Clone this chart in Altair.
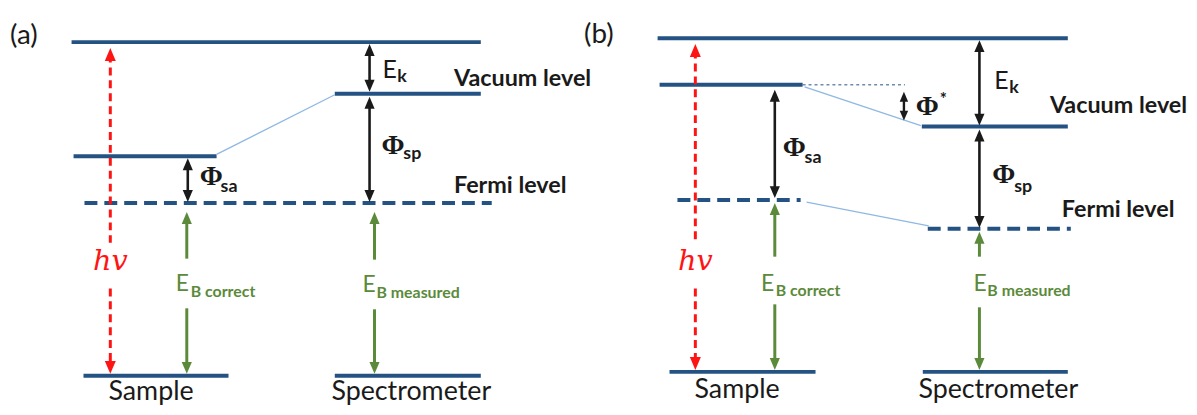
import altair as alt
import pandas as pd

# ---------------- canvas (diagram coordinates, y grows downwards) ----------------
W, H = 1189, 399
X_DOMAIN = [8, 8 + W]
Y_DOMAIN = [8, 8 + H]

BLUE = "#245282"
LIGHT = "#8fb8e3"
RED = "#ff1414"
GREEN = "#5b8a3a"
INK = "#1a1a1a"

# ---------------- energy levels ----------------
# solid levels: (a) photon/top, spectrometer vacuum, sample vacuum, core (sample, spectrometer); then (b)
solid_x0 = [72, 337, 74, 84, 337, 662, 664, 928, 674, 929]
solid_x1 = [484, 484, 218, 230, 484, 1075, 808, 1075, 821, 1075]
solid_y = [41, 93, 156, 377, 377, 37, 84, 126, 373, 373]

# Fermi levels (dashed)
fermi_x0 = [85, 682, 934]
fermi_x1 = [495, 806, 1078]
fermi_y = [203, 200, 229]

# thin light-blue connectors between levels
conn_x0 = [218, 810, 812]
conn_y0 = [154, 86, 202]
conn_x1 = [337, 927, 935]
conn_y1 = [94, 125, 226]

# thin dashed reference line (b)
ref_x0 = [808]
ref_x1 = [911]
ref_y = [84]

# ---------------- arrows ----------------
arrow_x = [111, 189, 372, 372, 188, 377, 700, 780, 910, 986, 986, 780, 986]
arrow_top = [47, 158, 43, 96, 212, 212, 43, 89, 91, 39, 129, 203, 232]
arrow_bottom = [375, 202, 91, 202, 375, 375, 371, 198, 120, 125, 228, 371, 371]
arrow_kind = ["red", "black", "black", "black", "green", "green",
              "red", "black", "small", "black", "black", "green", "green"]
gap_top = [243, None, None, None, 259, 260, 243, None, None, None, None, 257, 257]
gap_bottom = [289, None, None, None, 309, 310, 289, None, None, None, None, 305, 308]

# ---------------- labels ----------------
label_text = ["(a)", "(b)",
              "Vacuum level", "Fermi level", "Vacuum level", "Fermi level",
              "E", "k", "E", "k",
              "Φ", "sp", "Φ", "sa", "Φ", "sa", "Φ", "sp", "Φ", "*",
              "hv", "hv",
              "E", "B correct", "E", "B measured", "E", "B correct", "E", "B measured",
              "Sample", "Spectrometer", "Sample", "Spectrometer"]
label_x = [10, 588,
           457, 457, 1057, 1069,
           385, 400, 1001, 1016,
           384, 406, 201, 222, 788, 810, 999, 1021, 922, 946,
           111, 700,
           177, 192, 365, 379, 766, 781, 980, 994,
           152, 414, 742, 1005]
label_y = [43, 42,
           85, 193, 112, 217,
           77, 81, 88, 92,
           154, 159, 185, 192, 156, 163, 183, 192, 114, 104,
           270, 270,
           292, 298, 293, 299, 292, 297, 292, 297,
           401, 401, 399, 399]
label_style = ["tag", "tag",
               "level", "level", "level", "level",
               "E", "sub", "E", "sub",
               "phi", "sub", "phi", "sub", "phi", "sub", "phi", "sub", "phi", "sup",
               "hv", "hv",
               "Eg", "subg", "Eg", "subg", "Eg", "subg", "Eg", "subg",
               "name", "name", "name", "name"]

# ---------------- helpers ----------------
xs = alt.Scale(domain=X_DOMAIN, nice=False, zero=False)
ys = alt.Scale(domain=Y_DOMAIN, nice=False, zero=False, reverse=True)


def X(f="x"):
    return alt.X(f"{f}:Q", scale=xs, axis=None)


def Y(f="y"):
    return alt.Y(f"{f}:Q", scale=ys, axis=None)


layers = []

solid = pd.DataFrame({"x": solid_x0, "x2": solid_x1, "y": solid_y})
layers.append(alt.Chart(solid).mark_rule(color=BLUE, strokeWidth=4).encode(
    x=X(), x2="x2:Q", y=Y()))

fermi = pd.DataFrame({"x": fermi_x0, "x2": fermi_x1, "y": fermi_y})
layers.append(alt.Chart(fermi).mark_rule(color=BLUE, strokeWidth=4, strokeDash=[13, 7]).encode(
    x=X(), x2="x2:Q", y=Y()))

conn = pd.DataFrame({"x": conn_x0, "x2": conn_x1, "y": conn_y0, "y2": conn_y1})
layers.append(alt.Chart(conn).mark_rule(color=LIGHT, strokeWidth=1.3).encode(
    x=X(), x2="x2:Q", y=Y(), y2="y2:Q"))

ref = pd.DataFrame({"x": ref_x0, "x2": ref_x1, "y": ref_y})
layers.append(alt.Chart(ref).mark_rule(color=BLUE, strokeWidth=1, strokeDash=[3, 3]).encode(
    x=X(), x2="x2:Q", y=Y()))

head_px = {"black": 12, "small": 10, "red": 13, "green": 12}
kind_color = {"black": INK, "small": INK, "red": RED, "green": GREEN}
kind_width = {"black": 2.6, "small": 2.4, "red": 3, "green": 3}

seg_rows, head_rows = [], []
for x, t, b, k, g0, g1 in zip(arrow_x, arrow_top, arrow_bottom, arrow_kind, gap_top, gap_bottom):
    h = head_px[k]
    s0, s1 = t + h / 2, b - h / 2
    if g0 is None:
        seg_rows.append({"x": x, "y": s0, "y2": s1, "kind": k})
    else:
        seg_rows.append({"x": x, "y": s0, "y2": g0, "kind": k})
        seg_rows.append({"x": x, "y": g1, "y2": s1, "kind": k})
    head_rows.append({"x": x, "y": t + h / 2, "dir": "up", "size": h * h, "color": kind_color[k]})
    head_rows.append({"x": x, "y": b - h / 2, "dir": "down", "size": h * h, "color": kind_color[k]})

segs = pd.DataFrame(seg_rows)
heads = pd.DataFrame(head_rows)

for k in ["black", "small", "green"]:
    d = segs[segs.kind == k]
    layers.append(alt.Chart(d).mark_rule(color=kind_color[k], strokeWidth=kind_width[k]).encode(
        x=X(), y=Y(), y2="y2:Q"))
d = segs[segs.kind == "red"]
layers.append(alt.Chart(d).mark_rule(color=RED, strokeWidth=3, strokeDash=[8, 5]).encode(
    x=X(), y=Y(), y2="y2:Q"))

UP = "M0,-1L0.85,1L-0.85,1Z"
DOWN = "M0,1L0.85,-1L-0.85,-1Z"
for dname, shape in [("up", UP), ("down", DOWN)]:
    d = heads[heads.dir == dname]
    layers.append(alt.Chart(d).mark_point(shape=shape, filled=True, opacity=1, strokeWidth=0).encode(
        x=X(), y=Y(), size=alt.Size("size:Q", scale=None), color=alt.Color("color:N", scale=None)))

styles = {
    "tag": dict(font="Lato", fontSize=28, color=INK, align="left"),
    "level": dict(font="Lato", fontSize=23.5, fontWeight="bold", color=INK, align="left"),
    "E": dict(font="Lato", fontSize=25, color=INK, align="left"),
    "sub": dict(font="Lato", fontSize=18, fontWeight="bold", color=INK, align="left"),
    "sup": dict(font="Lato", fontSize=17, fontWeight="bold", color=INK, align="left"),
    "phi": dict(font="Liberation Serif", fontSize=28, fontWeight="bold", color=INK, align="left"),
    "hv": dict(font="DejaVu Serif", fontSize=29, fontStyle="italic", color=RED, align="center"),
    "Eg": dict(font="Lato", fontSize=23, color=GREEN, align="left"),
    "subg": dict(font="Lato", fontSize=16, fontWeight="bold", color=GREEN, align="left"),
    "name": dict(font="Lato", fontSize=27, color=INK, align="center"),
}

labels = pd.DataFrame({"text": label_text, "x": label_x, "y": label_y, "style": label_style})
for sname, props in styles.items():
    d = labels[labels["style"] == sname]
    layers.append(alt.Chart(d).mark_text(baseline="alphabetic", **props).encode(
        x=X(), y=Y(), text="text:N"))

chart = alt.layer(*layers).properties(
    width=W, height=H, padding=0,
    autosize=alt.AutoSizeParams(type="none"),
    background="white",
).configure_view(stroke=None)

chart.save("out.html", embed_options={"renderer": "svg", "actions": False})
